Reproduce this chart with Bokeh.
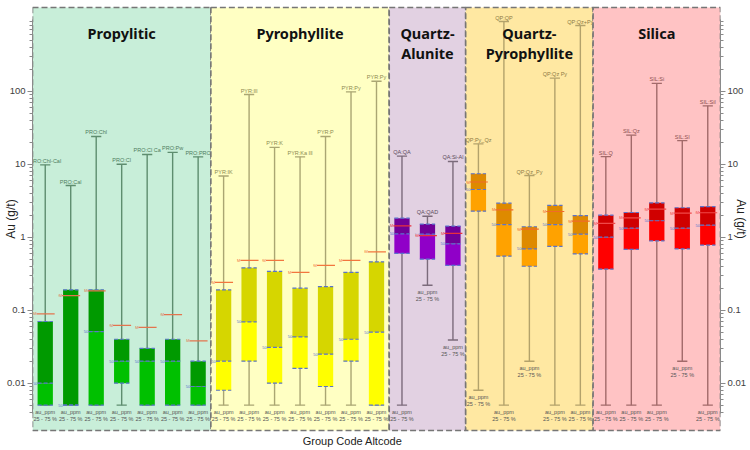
from bokeh.plotting import figure
from bokeh.models import FixedTicker, CustomJSTickFormatter, LogAxis, LinearAxis
from bokeh.core.properties import value
from bokeh.embed import file_html
from bokeh.resources import INLINE

# Alteration sub-codes, in plotting order (grouped by alteration type)
categories = [
    "PRO:Chl-Cal", "PRO:Cal", "PRO:Chl", "PRO:Cl", "PRO:Cl Ca", "PRO:Pw", "PRO:PRO",
    "PYR:IK", "PYR:Ill", "PYR:K", "PYR:Ka Ill", "PYR:P", "PYR:Py", "PYR:Py",
    "QA:QA", "QA:QAD", "QA:Si-Al",
    "QP:Py_Qz", "QP:QP", "QP:Qz_Py", "QP:Qz Py", "QP:Qz+Py",
    "SIL:Q", "SIL:Qz", "SIL:Si", "SIL:SI", "SIL:Sil",
]

# Au statistics (g/t) per sub-code
whisker_high = [9.8, 5.1, 24, 10, 13.6, 14.5, 12.6,
                6.9, 90, 17, 12.6, 24, 98, 137,
                12.9, 1.94, 10.9,
                19, 900, 7.0, 151, 794,
                12.7, 25, 128, 21, 63]
q3 = [0.07, 0.19, 0.19, 0.04, 0.03, 0.04, 0.02,
      0.19, 0.38, 0.34, 0.20, 0.21, 0.33, 0.46,
      1.82, 1.51, 1.42,
      7.4, 2.92, 1.39, 2.72, 1.98,
      2.0, 2.18, 2.96, 2.53, 2.63]
median = [0.01, 0.005, 0.051, 0.02, 0.02, 0.02, 0.009,
          0.02, 0.069, 0.031, 0.043, 0.025, 0.04, 0.05,
          1.11, 1.1, 0.81,
          4.5, 1.49, 0.69, 1.49, 1.10,
          1.0, 1.33, 1.68, 1.33, 1.46]
q1 = [0.005, 0.005, 0.005, 0.01, 0.005, 0.005, 0.005,
      0.008, 0.02, 0.01, 0.016, 0.009, 0.02, 0.005,
      0.60, 0.50, 0.41,
      2.27, 0.55, 0.40, 0.75, 0.59,
      0.365, 0.68, 0.89, 0.69, 0.78]
whisker_low = [0.005, 0.005, 0.005, 0.005, 0.005, 0.005, 0.005,
               0.005, 0.005, 0.005, 0.005, 0.005, 0.005, 0.005,
               0.005, 0.22, 0.039,
               0.008, 0.005, 0.02, 0.005, 0.005,
               0.005, 0.005, 0.005, 0.02, 0.005]
mean = [0.089, 0.158, 0.184, 0.062, 0.058, 0.087, 0.038,
        0.24, 0.48, 0.48, 0.33, 0.41, 0.48, 0.63,
        1.43, 1.05, 1.13,
        5.7, 2.37, 1.29, 2.25, 1.66,
        1.55, 1.84, 2.42, 2.13, 2.16]

# Alteration groups
group_names = ["Propylitic", "Pyrophyllite", "Quartz-\nAlunite", "Quartz-\nPyrophyllite", "Silica"]
group_sizes = [7, 7, 3, 5, 5]

# Axis ticks and titles
major_ticks = [0.01, 0.1, 1, 10, 100]
minor_ticks = [k * 10.0 ** e for e in range(-3, 3) for k in range(2, 10)
               if 0.0038 <= k * 10.0 ** e <= 950]
y_title = "Au (g/t)"
x_title = "Group Code Altcode"

# Styling per group
group_bg = ["#c8eed9", "#ffffc3", "#e2d1e2", "#ffe8a2", "#ffc3c4"]
box_low_color = ["#00c000", "#ffff00", "#9000c8", "#ffa200", "#ff0000"]
box_high_color = ["#009a00", "#d6d600", "#700098", "#de8a00", "#d00000"]
whisker_color = ["#5e8d6f", "#aaa673", "#7b6b7b", "#b3a26b", "#a26a6a"]
label_color = ["#4f7d60", "#8c8a50", "#5a4a5a", "#8c7a44", "#8c4f4f"]
mean_color = ["#e3744e", "#f2763e", "#e8303c", "#f06a2a", "#f04848"]
quart_color = "#5a74cc"

Y_BOTTOM, Y_TOP = 0.00225, 1400.0
X_TITLE_AT = 12.06  # horizontal position of the x-axis title

p = figure(width=750, height=450, x_range=(-0.5, 26.5), y_range=(0.00211, 1493),
           y_axis_type="log", x_axis_location=None,
           min_border_left=32, min_border_right=30, min_border_top=5, min_border_bottom=18,
           output_backend="svg", toolbar_location=None)
p.xgrid.visible = False
p.ygrid.visible = False
p.outline_line_color = None

right_axis = LogAxis()
p.add_layout(right_axis, "right")

for ax, title_standoff in [(p.yaxis[0], -14), (right_axis, -15)]:
    ax.ticker = FixedTicker(ticks=major_ticks, minor_ticks=minor_ticks)
    ax.formatter = CustomJSTickFormatter(code="return tick.toString();")
    ax.bounds = (0.0038, 950)
    ax.major_tick_out = 5
    ax.major_tick_in = 0
    ax.minor_tick_out = 3
    ax.minor_tick_in = 0
    ax.major_label_standoff = 2
    ax.major_label_text_font = "Liberation Sans"
    ax.major_label_text_font_size = "9.5px"
    ax.major_label_text_color = "#404040"
    ax.axis_line_color = "#8a8a8a"
    ax.major_tick_line_color = "#8a8a8a"
    ax.minor_tick_line_color = "#8a8a8a"
    ax.axis_label = y_title
    ax.axis_label_standoff = title_standoff
    ax.axis_label_text_font = "Liberation Sans"
    ax.axis_label_text_font_size = "12px"
    ax.axis_label_text_font_style = "normal"
    ax.axis_label_text_color = "#222222"

# x-axis: only the title, carried by a single tick label
bottom_axis = LinearAxis(ticker=FixedTicker(ticks=[X_TITLE_AT]),
                         formatter=CustomJSTickFormatter(code="return %r;" % x_title))
bottom_axis.axis_line_color = None
bottom_axis.major_tick_line_color = None
bottom_axis.minor_tick_line_color = None
bottom_axis.major_tick_out = 0
bottom_axis.major_tick_in = 0
bottom_axis.minor_tick_out = 0
bottom_axis.minor_tick_in = 0
bottom_axis.major_label_standoff = 2
bottom_axis.major_label_text_font = "Liberation Sans"
bottom_axis.major_label_text_font_size = "11px"
bottom_axis.major_label_text_color = "#222222"
p.add_layout(bottom_axis, "below")

font = value("Liberation Sans")
start = 0
for g, n in enumerate(group_sizes):
    idx = list(range(start, start + n))
    xs = [float(i) for i in idx]
    hi = [whisker_high[i] for i in idx]
    lo = [whisker_low[i] for i in idx]
    b3 = [q3[i] for i in idx]
    b1 = [q1[i] for i in idx]
    md = [median[i] for i in idx]
    mn = [mean[i] for i in idx]
    names = [categories[i] for i in idx]

    # group background panel
    p.quad(left=start - 0.5, right=start + n - 0.5, bottom=Y_BOTTOM, top=Y_TOP,
           fill_color=group_bg[g], line_color="#767676", line_width=1.6, line_dash="6 3")

    # whiskers and caps
    p.segment(x0=xs, y0=lo, x1=xs, y1=hi, line_color=whisker_color[g], line_width=1.4)
    p.segment(x0=[x - 0.2 for x in xs], y0=hi, x1=[x + 0.2 for x in xs], y1=hi,
              line_color=whisker_color[g], line_width=1.4)
    p.segment(x0=[x - 0.2 for x in xs], y0=lo, x1=[x + 0.2 for x in xs], y1=lo,
              line_color=whisker_color[g], line_width=1.4)

    # boxes: lower half (Q1-median) and upper half (median-Q3)
    p.vbar(x=xs, bottom=b1, top=md, width=0.6, fill_color=box_low_color[g], line_color=None)
    p.vbar(x=xs, bottom=md, top=b3, width=0.6, fill_color=box_high_color[g], line_color=None)

    # quartile edges and median
    for yv in (b1, b3, md):
        p.segment(x0=[x - 0.3 for x in xs], y0=yv, x1=[x + 0.3 for x in xs], y1=yv,
                  line_color=quart_color, line_width=1.2, line_dash="4 2")
    p.text(x=[x - 0.31 for x in xs], y=md, text=["50"] * n, text_align="right",
           text_baseline="middle", text_font=font, text_font_size="4px",
           text_color=quart_color)

    # mean
    p.segment(x0=[x - 0.47 for x in xs], y0=mn, x1=[x + 0.37 for x in xs], y1=mn,
              line_color=mean_color[g], line_width=1.2)
    p.text(x=[x - 0.47 for x in xs], y=mn, text=["M"] * n, text_align="left",
           text_baseline="middle", text_font=font, text_font_size="4px",
           text_color=mean_color[g], background_fill_color=group_bg[g])

    # code labels above the upper whisker
    p.text(x=xs, y=hi, text=names, text_align="center", text_baseline="bottom",
           y_offset=-1, text_font=font, text_font_size="5.5px", text_color=label_color[g])
    # statistic labels below the lower whisker
    p.text(x=xs, y=lo, text=["au_ppm\n25 - 75 %"] * n, text_align="center",
           text_baseline="top", y_offset=4, text_font=font, text_font_size="5.5px",
           text_color="#555555", text_line_height=1.1)

    # group title
    p.text(x=[start + (n - 1) / 2.0], y=[850], text=[group_names[g]], text_align="center",
           text_baseline="top", text_font=value("Noto Sans"), text_font_style="bold",
           text_font_size="14.5px", text_color="#111111", text_line_height=1.0)
    start += n

open("out.html", "w").write(file_html(p, INLINE))
